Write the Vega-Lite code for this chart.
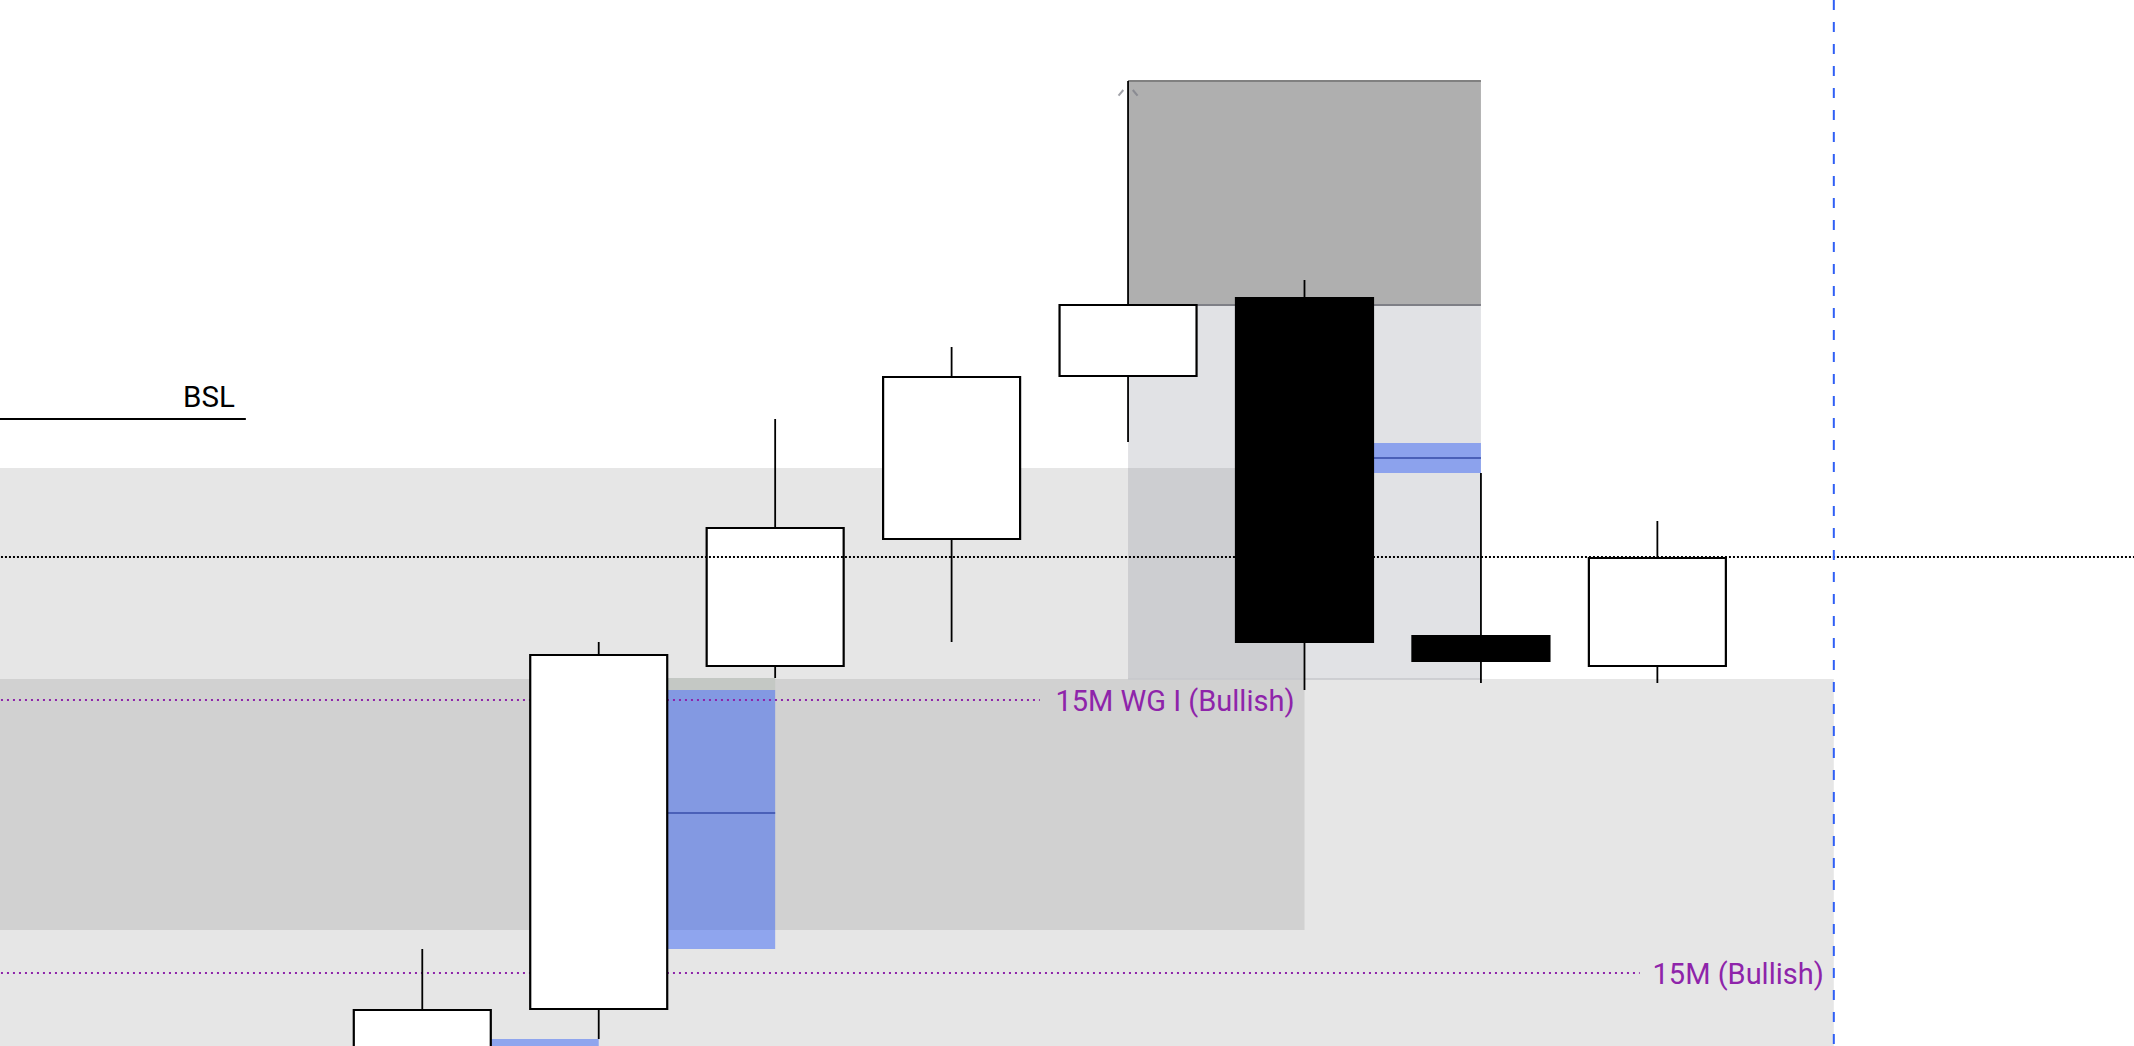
{
  "$schema": "https://vega.github.io/schema/vega-lite/v6.json",
  "width": 2134,
  "height": 1046,
  "autosize": {"type": "none"},
  "padding": 0,
  "background": "#ffffff",
  "config": {"view": {"stroke": null}},
  "datasets": {
    "candles": [
      {"t": 0, "open": 2.0, "high": 15.1, "low": 0.0, "close": 9.0, "dir": "up"},
      {"t": 1, "open": 9.1, "high": 45.8, "low": 6.1, "close": 44.5, "dir": "up"},
      {"t": 2, "open": 43.4, "high": 68.1, "low": 42.2, "close": 57.2, "dir": "up"},
      {"t": 3, "open": 56.1, "high": 75.3, "low": 45.8, "close": 72.3, "dir": "up"},
      {"t": 4, "open": 72.4, "high": 101.9, "low": 65.8, "close": 79.5, "dir": "up"},
      {"t": 5, "open": 80.2, "high": 82.0, "low": 41.0, "close": 45.8, "dir": "down"},
      {"t": 6, "open": 46.4, "high": 62.7, "low": 41.7, "close": 43.9, "dir": "down"},
      {"t": 7, "open": 43.4, "high": 57.9, "low": 41.7, "close": 54.2, "dir": "up"}
    ],
    "zones": [
      {"name": "range A", "kind": "range", "x0": -3, "x1": 5, "top": 63.2, "bottom": 17.0},
      {"name": "range B", "kind": "range", "x0": -3, "x1": 8, "top": 42.1, "bottom": 0.0},
      {"name": "block", "kind": "ob", "x0": 4, "x1": 6, "top": 79.5, "bottom": 42.1},
      {"name": "premium", "kind": "premium", "x0": 4, "x1": 6, "top": 101.9, "bottom": 79.5},
      {"name": "inverted", "kind": "inv", "x0": 1.392, "x1": 2, "top": 42.2, "bottom": 41.0},
      {"name": "fvg 1", "kind": "fvg", "x0": 1.392, "x1": 2, "top": 41.0, "bottom": 15.1, "mid": 28.7},
      {"name": "fvg 2", "kind": "fvg", "x0": 5.392, "x1": 6, "top": 65.7, "bottom": 62.7, "mid": 64.2},
      {"name": "fvg 3", "kind": "fvg", "x0": 0.392, "x1": 1, "top": 6.1, "bottom": 0.0, "mid": 3.0}
    ],
    "levels": [
      {"kind": "bsl", "x0": -3, "x1": -1.0, "y": 68.1, "label": "BSL", "lx": -1.0},
      {"kind": "eq", "x0": -3, "x1": 10, "y": 54.3},
      {"kind": "wg", "x0": -3, "x1": 3.5, "y": 40.0, "label": "15M WG I (Bullish)", "lx": 5},
      {"kind": "wg", "x0": -3, "x1": 6.9, "y": 12.7, "label": "15M (Bullish)", "lx": 8}
    ],
    "marker": [{"t": 4, "y": 101.0}],
    "now": [{"t": 8}]
  },
  "layer": [
    {
      "data": {"name": "zones"},
      "transform": [{"filter": "datum.kind === 'range'"}],
      "mark": {"type": "rect", "color": "#636363", "opacity": 0.16, "clip": true},
      "encoding": {
        "x": {"field": "x0", "type": "quantitative", "axis": null, "scale": {"domain": [-2.365, 9.673], "nice": false, "zero": false}},
        "x2": {"field": "x1"},
        "y": {"field": "top", "type": "quantitative", "axis": null, "scale": {"domain": [5.4, 110], "nice": false, "zero": false}},
        "y2": {"field": "bottom"}
      }
    },
    {
      "data": {"name": "zones"},
      "transform": [{"filter": "datum.kind === 'ob'"}],
      "mark": {"type": "rect", "color": "#696e7d", "opacity": 0.2, "clip": true},
      "encoding": {
        "x": {"field": "x0", "type": "quantitative", "axis": null},
        "x2": {"field": "x1"},
        "y": {"field": "top", "type": "quantitative", "axis": null},
        "y2": {"field": "bottom"}
      }
    },
    {
      "data": {"name": "zones"},
      "transform": [{"filter": "datum.kind === 'premium'"}],
      "mark": {"type": "rect", "color": "#afafaf", "opacity": 1, "clip": true},
      "encoding": {
        "x": {"field": "x0", "type": "quantitative", "axis": null},
        "x2": {"field": "x1"},
        "y": {"field": "top", "type": "quantitative", "axis": null},
        "y2": {"field": "bottom"}
      }
    },
    {
      "data": {"name": "zones"},
      "transform": [{"filter": "datum.kind === 'premium'"}],
      "mark": {"type": "rule", "color": "#808080", "strokeWidth": 2, "clip": true},
      "encoding": {
        "x": {"field": "x0", "type": "quantitative", "axis": null},
        "x2": {"field": "x1"},
        "y": {"field": "top", "type": "quantitative", "axis": null}
      }
    },
    {
      "data": {"name": "zones"},
      "transform": [{"filter": "datum.kind === 'premium'"}],
      "mark": {"type": "rule", "color": "#7e7f86", "strokeWidth": 2, "clip": true},
      "encoding": {
        "x": {"field": "x0", "type": "quantitative", "axis": null},
        "x2": {"field": "x1"},
        "y": {"field": "bottom", "type": "quantitative", "axis": null}
      }
    },
    {
      "data": {"name": "zones"},
      "transform": [{"filter": "datum.kind === 'ob'"}],
      "mark": {"type": "rule", "color": "#c6c7cb", "strokeWidth": 1.5, "clip": true},
      "encoding": {
        "x": {"field": "x0", "type": "quantitative", "axis": null},
        "x2": {"field": "x1"},
        "y": {"field": "bottom", "type": "quantitative", "axis": null}
      }
    },
    {
      "data": {"name": "zones"},
      "transform": [{"filter": "datum.kind === 'inv'"}],
      "mark": {"type": "rect", "color": "#c4c8c4", "opacity": 1, "clip": true},
      "encoding": {
        "x": {"field": "x0", "type": "quantitative", "axis": null},
        "x2": {"field": "x1"},
        "y": {"field": "top", "type": "quantitative", "axis": null},
        "y2": {"field": "bottom"}
      }
    },
    {
      "data": {"name": "zones"},
      "transform": [{"filter": "datum.kind === 'fvg'"}],
      "mark": {"type": "rect", "color": "#1c4ff8", "opacity": 0.43, "clip": true},
      "encoding": {
        "x": {"field": "x0", "type": "quantitative", "axis": null},
        "x2": {"field": "x1"},
        "y": {"field": "top", "type": "quantitative", "axis": null},
        "y2": {"field": "bottom"}
      }
    },
    {
      "data": {"name": "zones"},
      "transform": [{"filter": "datum.kind === 'fvg'"}],
      "mark": {"type": "rule", "color": "#4a60b8", "strokeWidth": 2, "clip": true},
      "encoding": {
        "x": {"field": "x0", "type": "quantitative", "axis": null},
        "x2": {"field": "x1"},
        "y": {"field": "mid", "type": "quantitative", "axis": null}
      }
    },
    {
      "data": {"name": "levels"},
      "transform": [{"filter": "datum.kind === 'bsl'"}],
      "mark": {"type": "rule", "color": "#000000", "strokeWidth": 2, "clip": true},
      "encoding": {
        "x": {"field": "x0", "type": "quantitative", "axis": null},
        "x2": {"field": "x1"},
        "y": {"field": "y", "type": "quantitative", "axis": null}
      }
    },
    {
      "data": {"name": "levels"},
      "transform": [{"filter": "datum.kind === 'bsl'"}],
      "mark": {"type": "text", "font": "Roboto", "fontSize": 29.5, "color": "#000000", "align": "right", "baseline": "alphabetic", "dx": -11, "dy": -12},
      "encoding": {
        "x": {"field": "lx", "type": "quantitative", "axis": null},
        "y": {"field": "y", "type": "quantitative", "axis": null},
        "text": {"field": "label"}
      }
    },
    {
      "data": {"name": "levels"},
      "transform": [{"filter": "datum.kind === 'wg'"}],
      "mark": {"type": "rule", "color": "#8e24aa", "strokeWidth": 2, "strokeDash": [2, 4], "clip": true},
      "encoding": {
        "x": {"field": "x0", "type": "quantitative", "axis": null},
        "x2": {"field": "x1"},
        "y": {"field": "y", "type": "quantitative", "axis": null}
      }
    },
    {
      "data": {"name": "levels"},
      "transform": [{"filter": "datum.kind === 'wg'"}],
      "mark": {"type": "text", "font": "Roboto", "fontSize": 29, "color": "#8e24aa", "align": "right", "baseline": "middle", "dx": -10, "dy": 2},
      "encoding": {
        "x": {"field": "lx", "type": "quantitative", "axis": null},
        "y": {"field": "y", "type": "quantitative", "axis": null},
        "text": {"field": "label"}
      }
    },
    {
      "data": {"name": "marker"},
      "mark": {"type": "point", "shape": "M-1,0.6L-0.5,0M0.5,0L1,0.6", "size": 361, "filled": false, "stroke": "#7b7d86", "strokeWidth": 2},
      "encoding": {
        "x": {"field": "t", "type": "quantitative", "axis": null},
        "y": {"field": "y", "type": "quantitative", "axis": null}
      }
    },
    {
      "data": {"name": "candles"},
      "mark": {"type": "rule", "color": "#000000", "strokeWidth": 1.8, "clip": true},
      "encoding": {
        "x": {"field": "t", "type": "quantitative", "axis": null},
        "y": {"field": "low", "type": "quantitative", "axis": null},
        "y2": {"field": "high"}
      }
    },
    {
      "data": {"name": "candles"},
      "mark": {"type": "bar", "width": 137, "stroke": "#000000", "strokeWidth": 2.2, "clip": true},
      "encoding": {
        "x": {"field": "t", "type": "quantitative", "axis": null},
        "y": {"field": "open", "type": "quantitative", "axis": null},
        "y2": {"field": "close"},
        "fill": {"field": "dir", "type": "nominal", "legend": null, "scale": {"domain": ["up", "down"], "range": ["#ffffff", "#000000"]}}
      }
    },
    {
      "data": {"name": "levels"},
      "transform": [{"filter": "datum.kind === 'eq'"}],
      "mark": {"type": "rule", "color": "#000000", "strokeWidth": 2, "strokeDash": [2, 2], "clip": true},
      "encoding": {
        "x": {"field": "x0", "type": "quantitative", "axis": null},
        "x2": {"field": "x1"},
        "y": {"field": "y", "type": "quantitative", "axis": null}
      }
    },
    {
      "data": {"name": "now"},
      "mark": {"type": "rule", "color": "#2f5ff5", "strokeWidth": 2, "strokeDash": [10, 12], "clip": true},
      "encoding": {
        "x": {"field": "t", "type": "quantitative", "axis": null}
      }
    }
  ]
}
